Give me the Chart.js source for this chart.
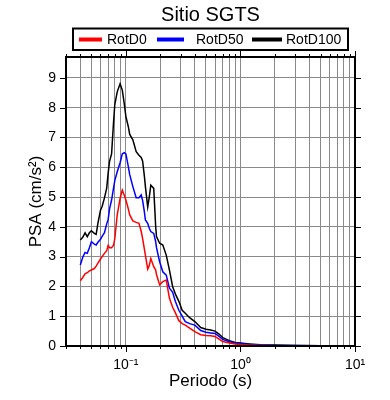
<!DOCTYPE html>
<html>
<head>
<meta charset="utf-8">
<script src="https://cdn.jsdelivr.net/npm/chart.js@4.4.1/dist/chart.umd.min.js"></script>
<style>
  html, body { margin: 0; padding: 0; background: #fff; }
  #wrap { width: 390px; height: 400px; }
</style>
</head>
<body>
<div id="wrap"><canvas id="myChart" width="390" height="400"></canvas></div>
<script>
const FONT = '"Liberation Sans", Arial, Helvetica, sans-serif';

// periods (s)
const periods = [0.04, 0.042, 0.044, 0.046, 0.048, 0.05, 0.053, 0.055, 0.057, 0.06,
  0.062, 0.065, 0.068, 0.07, 0.072, 0.075, 0.078, 0.08, 0.084, 0.089,
  0.093, 0.097, 0.1, 0.105, 0.108, 0.115, 0.123, 0.13, 0.136, 0.14,
  0.145, 0.148, 0.155, 0.16, 0.165, 0.175, 0.182, 0.185, 0.197, 0.21,
  0.225, 0.24, 0.256, 0.27, 0.29, 0.31, 0.33, 0.36, 0.4, 0.45,
  0.5, 0.55, 0.6, 0.65, 0.7, 0.8, 0.9, 1.0, 1.2, 1.5,
  2, 3, 5, 10];

const rotD0 = [2.19, 2.3, 2.42, 2.46, 2.52, 2.55, 2.6, 2.68, 2.78, 2.92,
  3.0, 3.11, 3.2, 3.38, 3.3, 3.3, 3.38, 3.6, 4.4, 4.95,
  5.23, 5.05, 4.9, 4.6, 4.4, 4.2, 4.15, 4.12, 3.85, 3.6,
  3.25, 3.05, 2.58, 2.7, 2.94, 2.66, 2.55, 2.4, 2.05, 2.16,
  2.21, 1.6, 1.3, 1.12, 0.85, 0.75, 0.7, 0.6, 0.48, 0.38,
  0.35, 0.34, 0.32, 0.23, 0.15, 0.10, 0.07, 0.05, 0.03, 0.02,
  0.012, 0.008, 0.005, 0.002];

const rotD50 = [2.72, 2.98, 3.14, 3.11, 3.3, 3.5, 3.42, 3.39, 3.48, 3.58,
  3.68, 3.8, 4.1, 4.25, 4.6, 4.9, 5.3, 5.55, 5.85, 6.15,
  6.45, 6.49, 6.45, 6.02, 5.75, 5.35, 4.98, 4.98, 5.07, 4.88,
  4.5, 4.23, 4.12, 3.95, 3.84, 3.78, 3.5, 3.3, 2.83, 2.49,
  2.38, 1.94, 1.8, 1.5, 1.2, 1.0, 0.82, 0.75, 0.70, 0.52,
  0.46, 0.44, 0.42, 0.32, 0.22, 0.14, 0.10, 0.08, 0.05, 0.03,
  0.02, 0.015, 0.01, 0.004];

const rotD100 = [3.56, 3.65, 3.80, 3.67, 3.80, 3.87, 3.78, 3.75, 4.12, 4.56,
  4.68, 4.97, 5.3, 5.8, 6.2, 6.45, 7.5, 8.1, 8.53, 8.80,
  8.59, 8.1, 7.7, 7.36, 7.1, 6.92, 6.52, 6.4, 6.33, 6.2,
  5.7, 5.35, 4.67, 5.0, 5.40, 5.29, 4.0, 3.67, 3.45, 3.39,
  3.05, 2.55, 1.99, 1.75, 1.5, 1.2, 1.1, 0.95, 0.82, 0.62,
  0.56, 0.54, 0.50, 0.40, 0.28, 0.18, 0.12, 0.10, 0.07, 0.04,
  0.03, 0.02, 0.01, 0.005];

const seriesNames = ["RotD0", "RotD50", "RotD100"];
const seriesColors = ["#ff0000", "#0000ff", "#000000"];

const yTicks = [0, 1, 2, 3, 4, 5, 6, 7, 8, 9];
const xMajor = [0.1, 1, 10];
const xMajorLabels = ["10\u207B\u00B9", "10\u2070", "10\u00B9"];

// minor ticks/gridlines 2..9 in each decade
const xGrid = [];
[0.01, 0.1, 1].forEach(d => {
  for (let k = 1; k <= 9; k++) {
    const v = +(k * d).toPrecision(3);
    if (v >= 0.03 && v <= 10) xGrid.push(v);
  }
});
xGrid.push(10);

function isMajor(v) {
  return xMajor.some(m => Math.abs(v - m) / m < 1e-6);
}

const frame = {
  id: "frame",
  afterDraw(chart) {
    const { ctx, chartArea: a, scales } = chart;
    const xs = scales.x, ys = scales.y;
    ctx.save();
    ctx.strokeStyle = "#000";
    ctx.lineWidth = 1;
    ctx.beginPath();
    xGrid.forEach(v => {
      const px = Math.round(xs.getPixelForValue(v)) + 0.5;
      const len = isMajor(v) ? 6 : 3;
      ctx.moveTo(px, a.bottom); ctx.lineTo(px, a.bottom + len);
      ctx.moveTo(px, a.top); ctx.lineTo(px, a.top - len);
    });
    yTicks.forEach(v => {
      const py = Math.round(ys.getPixelForValue(v)) + 0.5;
      ctx.moveTo(a.left - 6, py); ctx.lineTo(a.left, py);
      ctx.moveTo(a.right, py); ctx.lineTo(a.right + 6, py);
    });
    ctx.stroke();

    ctx.lineWidth = 2;
    ctx.strokeRect(a.left, a.top, a.right - a.left, a.bottom - a.top);

    // title
    ctx.fillStyle = "#000";
    ctx.font = "20px " + FONT;
    ctx.textAlign = "center";
    ctx.textBaseline = "middle";
    ctx.fillText("Sitio SGTS", (a.left + a.right) / 2, 15);

    // legend
    ctx.lineWidth = 2;
    ctx.strokeRect(73, 28.5, 275, 21.5);
    const lx = [[79, 102, 107], [157, 184, 196], [252, 282, 286]];
    ctx.font = "14px " + FONT;
    ctx.textAlign = "left";
    chart.data.datasets.forEach((ds, i) => {
      ctx.strokeStyle = ds.borderColor;
      ctx.lineWidth = 4;
      ctx.beginPath();
      ctx.moveTo(lx[i][0], 39.5); ctx.lineTo(lx[i][1], 39.5);
      ctx.stroke();
      ctx.fillText(ds.label, lx[i][2], 40);
    });
    ctx.restore();
  }
};

const seriesData = [rotD0, rotD50, rotD100];
const datasets = seriesData.map((vals, i) => ({
  label: seriesNames[i],
  data: periods.map((p, j) => ({ x: p, y: vals[j] })),
  borderColor: seriesColors[i],
  backgroundColor: seriesColors[i],
  borderWidth: 1.5,
  pointRadius: 0,
  tension: 0,
  fill: false,
}));

const ctx = document.getElementById("myChart").getContext("2d");
const myChart = new Chart(ctx, {
  type: "line",
  data: { datasets },
  options: {
    responsive: false,
    animation: false,
    layout: { padding: { top: 57, right: 35, left: 0, bottom: 0 } },
    plugins: {
      legend: { display: false },
      title: { display: false },
      tooltip: { enabled: false },
    },
    scales: {
      x: {
        type: "logarithmic",
        min: 0.03,
        max: 10,
        afterBuildTicks: s => { s.ticks = xGrid.map(v => ({ value: v })); },
        afterFit: s => { s.height = 54; },
        grid: { color: "#8a8a8a", lineWidth: 1, drawTicks: false },
        border: { display: false },
        ticks: {
          autoSkip: false,
          maxRotation: 0,
          padding: 11,
          color: "#000",
          font: { family: FONT, size: 14 },
          callback: v => {
            const i = xMajor.findIndex(m => Math.abs(v - m) / m < 1e-6);
            return i >= 0 ? xMajorLabels[i] : "";
          },
        },
        title: {
          display: true,
          text: "Periodo (s)",
          color: "#000",
          font: { family: FONT, size: 17 },
          padding: { top: 0, bottom: 8 },
        },
      },
      y: {
        min: 0,
        max: 9.7,
        afterBuildTicks: s => { s.ticks = yTicks.map(v => ({ value: v })); },
        afterFit: s => { s.width = 66; },
        grid: { color: "#8a8a8a", lineWidth: 1, drawTicks: false },
        border: { display: false },
        ticks: {
          padding: 10,
          color: "#000",
          font: { family: FONT, size: 14 },
        },
        title: {
          display: true,
          text: "PSA (cm/s\u00B2)",
          color: "#000",
          font: { family: FONT, size: 17 },
          padding: { top: 26, bottom: 0 },
        },
      },
    },
  },
  plugins: [frame],
});
</script>
</body>
</html>
